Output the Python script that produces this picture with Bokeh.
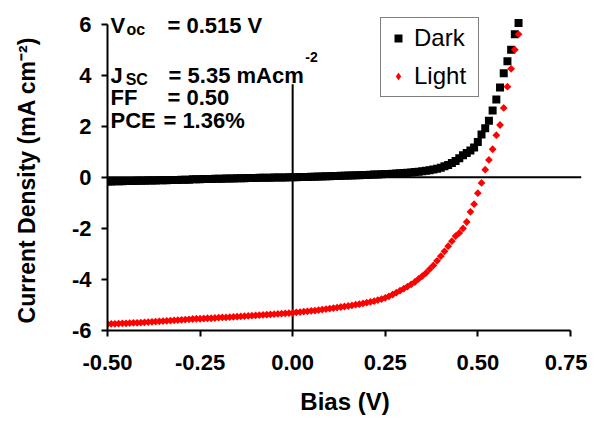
import numpy as np
from bokeh.plotting import figure
from bokeh.layouts import row, column
from bokeh.models import (ColumnDataSource, FixedTicker, PrintfTickFormatter, Span, Label,
                          Range1d, Legend, LegendItem)
from bokeh.embed import file_html
from bokeh.resources import INLINE

# ---------------- data ----------------
bias = [
    -0.50, -0.49, -0.48, -0.47, -0.46, -0.45, -0.44, -0.43, -0.42, -0.41,
    -0.40, -0.39, -0.38, -0.37, -0.36, -0.35, -0.34, -0.33, -0.32, -0.31,
    -0.30, -0.29, -0.28, -0.27, -0.26, -0.25, -0.24, -0.23, -0.22, -0.21,
    -0.20, -0.19, -0.18, -0.17, -0.16, -0.15, -0.14, -0.13, -0.12, -0.11,
    -0.10, -0.09, -0.08, -0.07, -0.06, -0.05, -0.04, -0.03, -0.02, -0.01,
    0.00, 0.01, 0.02, 0.03, 0.04, 0.05, 0.06, 0.07, 0.08, 0.09,
    0.10, 0.11, 0.12, 0.13, 0.14, 0.15, 0.16, 0.17, 0.18, 0.19,
    0.20, 0.21, 0.22, 0.23, 0.24, 0.25, 0.26, 0.27, 0.28, 0.29,
    0.30, 0.31, 0.32, 0.33, 0.34, 0.35, 0.36, 0.37, 0.38, 0.39,
    0.40, 0.41, 0.42, 0.43, 0.44, 0.45, 0.46, 0.47, 0.48, 0.49,
    0.50, 0.51, 0.52, 0.53, 0.54, 0.55, 0.56, 0.57, 0.58, 0.59,
    0.60, 0.61,
]

dark = [
    -0.16, -0.16, -0.15, -0.15, -0.15, -0.14, -0.14, -0.14, -0.13, -0.13,
    -0.13, -0.12, -0.12, -0.12, -0.11, -0.11, -0.11, -0.10, -0.10, -0.10,
    -0.09, -0.09, -0.09, -0.08, -0.08, -0.08, -0.07, -0.07, -0.07, -0.06,
    -0.06, -0.06, -0.05, -0.05, -0.05, -0.04, -0.04, -0.04, -0.03, -0.03,
    -0.03, -0.02, -0.02, -0.02, -0.02, -0.01, -0.01, -0.01, -0.01, 0.00,
    0.00, 0.00, 0.01, 0.01, 0.01, 0.02, 0.02, 0.03, 0.03, 0.04,
    0.04, 0.05, 0.05, 0.06, 0.06, 0.07, 0.07, 0.08, 0.08, 0.09,
    0.09, 0.10, 0.11, 0.11, 0.12, 0.13, 0.13, 0.14, 0.15, 0.16,
    0.17, 0.18, 0.19, 0.21, 0.22, 0.24, 0.26, 0.28, 0.31, 0.34,
    0.38, 0.43, 0.48, 0.56, 0.64, 0.75, 0.86, 0.95, 1.05, 1.17,
    1.38, 1.68, 1.92, 2.22, 2.62, 3.05, 3.52, 4.08, 4.55, 5.00,
    5.60, 6.05,
]

light = [
    -5.75, -5.74, -5.74, -5.73, -5.72, -5.72, -5.71, -5.70, -5.70, -5.69,
    -5.68, -5.67, -5.66, -5.65, -5.64, -5.63, -5.62, -5.61, -5.60, -5.59,
    -5.58, -5.57, -5.56, -5.55, -5.54, -5.54, -5.53, -5.52, -5.52, -5.51,
    -5.50, -5.49, -5.49, -5.48, -5.47, -5.46, -5.45, -5.44, -5.43, -5.42,
    -5.41, -5.40, -5.39, -5.38, -5.37, -5.36, -5.35, -5.34, -5.33, -5.32,
    -5.31, -5.29, -5.28, -5.26, -5.25, -5.23, -5.22, -5.20, -5.18, -5.16,
    -5.14, -5.12, -5.10, -5.08, -5.06, -5.04, -5.02, -4.99, -4.97, -4.94,
    -4.91, -4.88, -4.85, -4.81, -4.77, -4.72, -4.66, -4.59, -4.52, -4.44,
    -4.36, -4.28, -4.19, -4.10, -3.98, -3.87, -3.75, -3.60, -3.45, -3.27,
    -3.09, -2.90, -2.70, -2.50, -2.30, -2.18, -2.00, -1.75, -1.35, -1.05,
    -0.62, -0.22, 0.30, 0.68, 1.10, 1.65, 2.05, 2.72, 3.55, 4.25,
    5.00, 5.60,
]

x_ticks = [-0.50, -0.25, 0.00, 0.25, 0.50, 0.75]
y_ticks = [-6, -4, -2, 0, 2, 4, 6]

series_names = ["Dark", "Light"]
x_title = "Bias (V)"
y_title = "Current Density (mA cm\u207b\u00b2)"
voc = 0.515
jsc = 5.35
ff = 0.50
pce = 1.36

FONT = "Liberation Sans"

# ---------------- main figure ----------------
p = figure(width=542, height=380,
           x_range=Range1d(-0.5, 0.78), y_range=Range1d(-6, 6.3),
           output_backend="svg", toolbar_location=None,
           min_border_left=62, min_border_right=6,
           min_border_top=16, min_border_bottom=50)
p.xgrid.visible = False
p.ygrid.visible = False
p.outline_line_color = None
p.background_fill_color = "white"
p.border_fill_color = "white"

for ax in (p.xaxis[0], p.yaxis[0]):
    ax.axis_line_width = 2
    ax.axis_line_color = "black"
    ax.major_tick_line_width = 2
    ax.major_tick_line_color = "black"
    ax.major_tick_in = 0
    ax.major_tick_out = 6
    ax.minor_tick_line_color = None
    ax.major_label_text_font = FONT
    ax.major_label_text_font_style = "bold"
    ax.major_label_text_font_size = "22px"
    ax.major_label_text_color = "black"

p.xaxis.ticker = FixedTicker(ticks=x_ticks)
p.xaxis.formatter = PrintfTickFormatter(format="%.2f")
p.xaxis.bounds = (x_ticks[0], x_ticks[-1])
p.xaxis.major_label_standoff = 18

p.yaxis.ticker = FixedTicker(ticks=y_ticks)
p.yaxis.formatter = PrintfTickFormatter(format="%d")
p.yaxis.bounds = (y_ticks[0], y_ticks[-1])
p.yaxis.major_label_standoff = 10

# reference lines through the origin
p.add_layout(Span(location=0, dimension="width", line_color="black", line_width=2))
p.segment(x0=[0], y0=[-6], x1=[0], y1=[3.65], line_color="black", line_width=2)

src = ColumnDataSource(dict(bias=bias, dark=dark, light=light))
r_dark = p.scatter("bias", "dark", source=src, marker="square", size=8,
                   fill_color="black", line_color=None)
r_light = p.scatter("bias", "light", source=src, marker="square", size=5.5, angle=np.pi / 4,
                    fill_color="#ff0000", line_color=None)
# hidden twin of the Light series, used only for the diamond key in the legend
r_light_key = p.scatter("bias", "light", source=src, marker="diamond", size=9,
                        fill_color="#ff0000", line_color=None, visible=False)

lg = Legend(items=[LegendItem(label=series_names[0], renderers=[r_dark]),
                   LegendItem(label=series_names[1], renderers=[r_light_key])])
lg.location = (273, 233)
lg.border_line_color = "black"
lg.border_line_width = 1.5
lg.background_fill_color = "white"
lg.background_fill_alpha = 1
lg.inactive_fill_alpha = 0
lg.label_text_font = FONT
lg.label_text_font_size = "24px"
lg.label_text_color = "black"
lg.padding = 6
lg.spacing = 10
lg.glyph_width = 22
lg.glyph_height = 20
lg.label_standoff = 5
lg.label_width = 58
lg.margin = 0
p.add_layout(lg)

# device parameters
def add_text(x, y, text, size):
    p.add_layout(Label(x=x, y=y, text=text,
                       text_font=FONT, text_font_size=size,
                       text_font_style="bold",
                       text_color="black", text_align="left",
                       text_baseline="alphabetic"))

add_text(-0.492, 5.96, "V", "22px")
add_text(-0.449, 5.80, "oc", "16px")
add_text(-0.338, 5.96, f"= {voc:.3f} V", "22px")
add_text(-0.492, 3.98, "J", "22px")
add_text(-0.451, 3.83, "SC", "16px")
add_text(-0.335, 3.98, f"= {jsc:.2f} mAcm", "22px")
add_text(0.034, 4.72, "-2", "14px")
add_text(-0.492, 3.13, "FF", "22px")
add_text(-0.338, 3.13, f"= {ff:.2f}", "22px")
add_text(-0.492, 2.23, "PCE", "22px")
add_text(-0.349, 2.23, f"= {pce:.2f}%", "22px")

# ---------------- title strips (axis titles) ----------------
def strip(w, h):
    f = figure(width=w, height=h, x_range=Range1d(0, w), y_range=Range1d(0, h),
               output_backend="svg", toolbar_location=None, min_border=0,
               x_axis_location=None, y_axis_location=None)
    f.grid.visible = False
    f.outline_line_color = None
    f.background_fill_color = "white"
    f.border_fill_color = "white"
    return f

tfig = strip(45, 380)
tfig.add_layout(Label(x=26, y=182, text=y_title, angle=np.pi / 2,
                      text_font=FONT, text_font_size="23px", text_font_style="bold",
                      text_color="black", text_align="center", text_baseline="middle"))

bfig = strip(587, 37)
bfig.add_layout(Label(x=344.5, y=16, text=x_title,
                      text_font=FONT, text_font_size="24px", text_font_style="bold",
                      text_color="black", text_align="center", text_baseline="middle"))

lay = column(row(tfig, p, spacing=0), bfig, spacing=0)

open("out.html", "w").write(file_html(lay, INLINE))
